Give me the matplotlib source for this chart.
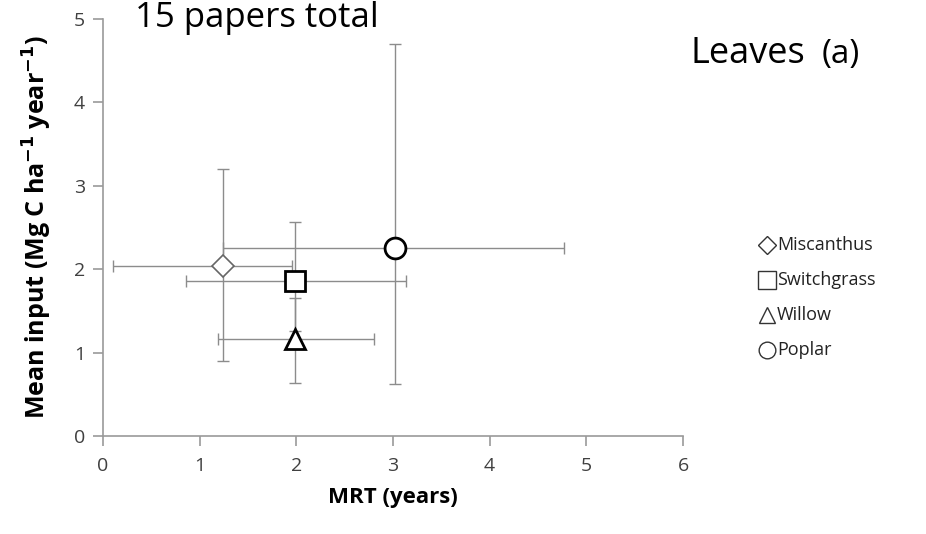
import matplotlib.pyplot as plt

plt.rcParams['font.family'] = ['Open Sans', 'DejaVu Sans']

# crop data
crops = ["Miscanthus", "Switchgrass", "Willow", "Poplar"]
mrt = [1.24, 1.99, 1.99, 3.02]
mrt_lo = [0.10, 0.86, 1.19, 1.24]
mrt_hi = [1.96, 3.13, 2.80, 4.77]
inp = [2.04, 1.86, 1.16, 2.26]
inp_lo = [0.90, 1.26, 0.64, 0.62]
inp_hi = [3.20, 2.57, 1.66, 4.70]

markers = ["D", "s", "^", "o"]
msizes = [11, 14, 15, 15]
edgecols = ["#666666", "black", "black", "black"]
edgew = [1.2, 2.0, 2.0, 2.0]

fig = plt.figure(figsize=(9.26, 5.34), dpi=100)
ax = fig.add_axes([103 / 926, 1 - 436 / 534, 580 / 926, 417 / 534])

for i, c in enumerate(crops):
    xerr = [[mrt[i] - mrt_lo[i]], [mrt_hi[i] - mrt[i]]]
    yerr = [[inp[i] - inp_lo[i]], [inp_hi[i] - inp[i]]]
    ax.errorbar(mrt[i], inp[i], xerr=xerr, yerr=yerr, fmt="none",
                ecolor="#8c8c8c", elinewidth=1.0, capsize=4, capthick=1.0, zorder=2)
    ax.plot(mrt[i], inp[i], marker=markers[i], ms=msizes[i], mfc="white",
            mec=edgecols[i], mew=edgew[i], linestyle="none", zorder=3)

ax.set_xlim(0, 6)
ax.set_ylim(0, 5)
ax.set_xticks(range(0, 7))
ax.set_yticks(range(0, 6))
for s in ["top", "right"]:
    ax.spines[s].set_visible(False)
for s in ["left", "bottom"]:
    ax.spines[s].set_color("#9a9a9a")
    ax.spines[s].set_linewidth(1.2)
ax.tick_params(colors="#9a9a9a", labelcolor="#404040", labelsize=14, length=7, width=1.2)
ax.tick_params(axis="x", pad=8)
ax.tick_params(axis="y", pad=6)

ax.set_xlabel("MRT (years)", fontsize=16, fontweight="bold", labelpad=9)
ax.set_ylabel("Mean input (Mg C ha$^{\\mathbf{-1}}$ year$^{\\mathbf{-1}}$)",
              fontsize=18, fontweight="bold", labelpad=14)

fig.text(135 / 926, 1 - 27 / 534, "15 papers total", fontsize=25, ha="left", va="baseline")
fig.text(690 / 926, 1 - 63 / 534, "Leaves", fontsize=26, ha="left", va="baseline")
fig.text(822 / 926, 1 - 63 / 534, "(a)", fontsize=24, ha="left", va="baseline")

# legend drawn as marker + label rows
leg_y = [245, 280, 315, 350]
leg_ms = [9, 13, 12, 12]
for i, c in enumerate(crops):
    fig.lines.append(plt.Line2D([767 / 926], [1 - leg_y[i] / 534], transform=fig.transFigure,
                                marker=markers[i], ms=leg_ms[i], mfc="white", mec="#333333",
                                mew=1.0, linestyle="none"))
    fig.text(777 / 926, 1 - leg_y[i] / 534, c, fontsize=13, ha="left", va="center", color="#222222")

fig.savefig("out.png", dpi=100)
